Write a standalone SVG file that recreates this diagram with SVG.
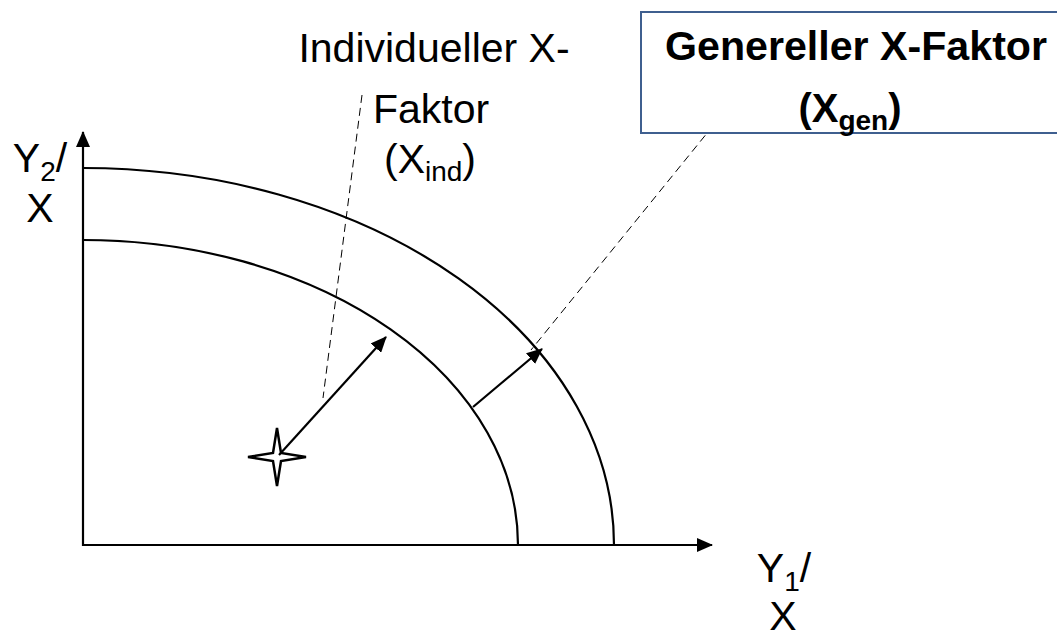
<svg xmlns="http://www.w3.org/2000/svg" width="1057" height="632" viewBox="0 0 1057 632">
<style>
.t{font-family:"Liberation Sans",Arial,sans-serif;font-size:41px;fill:#000}
.b{font-family:"Liberation Sans",Arial,sans-serif;font-size:40px;font-weight:bold;fill:#000}
.ln{fill:none;stroke:#000;stroke-width:2.2}
.dash{fill:none;stroke:#000;stroke-width:1;stroke-dasharray:8,5}
</style>
<defs>
<marker id="ah" markerWidth="16" markerHeight="14" refX="15" refY="7" orient="auto" markerUnits="userSpaceOnUse">
<path d="M0,0 L16,7 L0,14 Z" fill="#000"/>
</marker>
</defs>
<rect width="1057" height="632" fill="#fff"/>
<g id="axes">
<line class="ln" x1="83" y1="546" x2="83" y2="132" marker-end="url(#ah)" stroke-width="2.5"/>
<line class="ln" x1="82" y1="545" x2="712" y2="545" marker-end="url(#ah)" stroke-width="2.5"/>
</g>
<g id="outer-curve"><path class="ln" d="M83,168 A531,377 0 0 1 614,545"/></g>
<g id="inner-curve"><path class="ln" d="M83,240 A435,305 0 0 1 518,545"/></g>
<g id="star"><path d="M277,428 L281,453 L306,457 L281,461 L277,486 L273,461 L248,457 L273,453 Z" fill="#fff" stroke="#000" stroke-width="2.5" stroke-linejoin="miter"/></g>
<g id="connectors">
<line class="ln" x1="279" y1="455" x2="386" y2="337" marker-end="url(#ah)" stroke-width="2.5"/>
<line class="ln" x1="473" y1="407" x2="542" y2="349" marker-end="url(#ah)" stroke-width="2.5"/>
<line class="dash" x1="362" y1="95" x2="323" y2="398"/>
<line class="dash" x1="738" y1="95" x2="531" y2="350"/>
</g>
<g id="label-ind">
<text class="t" x="434" y="62" text-anchor="middle">Individueller X-</text>
<text class="t" x="431" y="123" text-anchor="middle">Faktor</text>
<text class="t" x="430" y="173" text-anchor="middle">(X<tspan font-size="28" dy="8">ind</tspan><tspan dy="-8">)</tspan></text>
</g>
<g id="label-gen">
<rect x="641" y="12" width="430" height="121" fill="#fff" stroke="#3f5f8f" stroke-width="2"/>
<text class="b" x="856" y="60" text-anchor="middle" textLength="382" lengthAdjust="spacingAndGlyphs">Genereller X-Faktor</text>
<text class="b" x="850" y="122" text-anchor="middle">(X<tspan font-size="28" dy="8">gen</tspan><tspan dy="-8">)</tspan></text>
</g>
<g id="label-y2">
<text class="t" x="40" y="172" text-anchor="middle">Y<tspan font-size="28" dy="9">2</tspan><tspan dy="-9">/</tspan></text>
<text class="t" x="40" y="222" text-anchor="middle">X</text>
</g>
<g id="label-y1">
<text class="t" x="784" y="582" text-anchor="middle">Y<tspan font-size="28" dy="9">1</tspan><tspan dy="-9">/</tspan></text>
<text class="t" x="783" y="630" text-anchor="middle">X</text>
</g>
</svg>
